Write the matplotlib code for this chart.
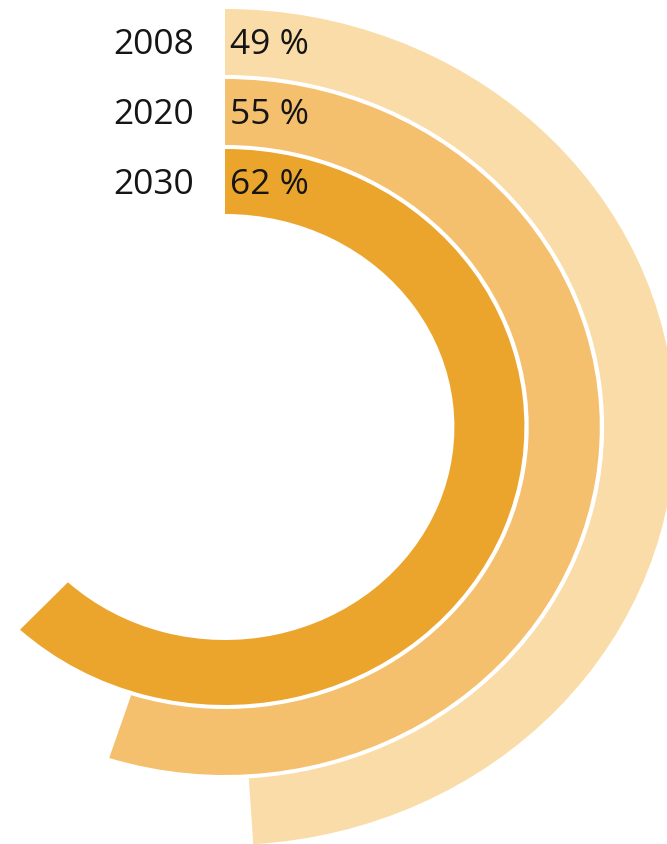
import matplotlib
matplotlib.use("Agg")
import matplotlib.pyplot as plt
from matplotlib.patches import Wedge

# --- data ---
years = ["2008", "2020", "2030"]
shares = [49, 55, 62]
colors = ["#FADCA8", "#F5C06E", "#EBA52D"]

# ring geometry (outer ring first), in vertical pixel units
ring_inner = [352, 282, 213]
ring_outer = [418, 348, 278]

# the reference is stretched a bit horizontally
sx = 1.077
W, H = 667, 845
cx, cy = 225 / sx, H - 428

fig = plt.figure(figsize=(W / 100, H / 100), dpi=100)
ax = fig.add_axes([0, 0, 1, 1])
ax.set_xlim(0, W / sx)
ax.set_ylim(0, H)
ax.axis("off")

for year, pct, col, r0, r1 in zip(years, shares, colors, ring_inner, ring_outer):
    sweep = pct / 100 * 360
    w = Wedge((cx, cy), r1, 90 - sweep, 90, width=r1 - r0,
              facecolor=col, edgecolor="none")
    ax.add_patch(w)
    ymid = cy + (r0 + r1) / 2 - 2
    ax.text(194 / sx, ymid, year, ha="right", va="center",
            fontsize=25.5, family="Open Sans", color="#151515")
    ax.text(230 / sx, ymid, f"{pct} %", ha="left", va="center",
            fontsize=25.5, family="Open Sans", color="#151515")

fig.savefig("out.png", dpi=100)
